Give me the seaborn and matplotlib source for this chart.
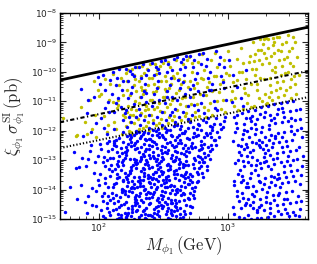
import matplotlib
matplotlib.use("Agg")
import matplotlib.pyplot as plt
import seaborn as sns
from matplotlib.ticker import LogLocator, NullFormatter

# (log10 M [GeV], log10 sigma [pb])
olive_pts = [
    (1.72,-11.57),(1.82,-12.18),(1.83,-12.15),(1.86,-11.18),(1.89,-11.7),(1.93,-10.95),(1.95,-11.95),(1.97,-11.45),(1.99,-10.6),(1.91,-12.1),(1.96,-10.3),(1.98,-12.2),
    (2.02,-10.74),(2.00,-10.81),(2.08,-10.95),(2.11,-11.01),(2.15,-10.97),(2.15,-11.12),(2.14,-11.23),(2.11,-10.07),(2.09,-10.41),(2.16,-10.44),(2.04,-11.5),(2.06,-12.05),(2.12,-11.7),(2.18,-12.1),(2.19,-11.45),(2.17,-10.2),(2.05,-10.25),(2.13,-11.95),(2.07,-11.8),(2.19,-10.8),
    (2.21,-10.05),(2.22,-10.6),(2.23,-11.15),(2.24,-11.7),(2.25,-12.05),(2.26,-9.9),(2.27,-10.45),(2.28,-11.0),(2.29,-11.55),(2.21,-11.85),(2.22,-11.35),(2.23,-9.95),(2.24,-10.8),(2.25,-11.25),(2.26,-12.1),(2.27,-11.75),(2.28,-10.25),(2.29,-10.65),(2.205,-11.55),(2.235,-12.0),(2.265,-11.45),(2.295,-12.0),
    (2.30,-9.85),(2.31,-10.3),(2.32,-10.85),(2.33,-11.4),(2.34,-11.9),(2.35,-10.05),(2.36,-10.6),(2.37,-11.15),(2.38,-11.7),(2.39,-12.0),(2.305,-11.6),(2.315,-11.05),(2.325,-10.5),(2.335,-9.8),(2.345,-10.75),(2.355,-11.3),(2.365,-11.85),(2.375,-9.9),(2.385,-10.45),(2.395,-10.95),(2.31,-11.95),(2.33,-10.15),(2.36,-11.5),(2.38,-11.25),
    (2.40,-9.75),(2.41,-10.2),(2.42,-10.7),(2.43,-11.25),(2.44,-11.8),(2.45,-9.95),(2.46,-10.5),(2.47,-11.05),(2.48,-11.6),(2.49,-11.9),(2.405,-11.45),(2.415,-10.95),(2.425,-10.4),(2.435,-9.72),(2.445,-10.65),(2.455,-11.2),(2.465,-11.75),(2.475,-9.8),(2.485,-10.3),(2.495,-10.85),
    (2.50,-9.7),(2.51,-10.15),(2.52,-10.65),(2.53,-11.2),(2.54,-11.75),(2.55,-9.85),(2.56,-10.4),(2.57,-10.95),(2.58,-11.5),(2.59,-11.8),(2.505,-11.35),(2.515,-10.85),(2.525,-10.3),(2.535,-9.65),(2.545,-10.55),(2.555,-11.1),(2.565,-11.65),(2.585,-10.2),
    (2.60,-9.6),(2.61,-10.05),(2.62,-10.6),(2.63,-11.1),(2.64,-11.65),(2.65,-9.75),(2.66,-10.3),(2.67,-10.85),(2.68,-11.4),(2.69,-11.65),(2.605,-11.3),(2.625,-10.25),(2.645,-10.9),(2.665,-11.5),(2.685,-9.6),(2.695,-10.5),
    (2.70,-9.5),(2.72,-10.0),(2.74,-10.55),(2.76,-11.1),(2.78,-11.5),(2.71,-10.3),(2.73,-10.85),(2.75,-11.35),(2.77,-9.65),(2.79,-10.2),(2.705,-11.6),(2.725,-9.7),(2.745,-11.55),(2.785,-10.75),
    (2.80,-9.4),(2.82,-9.95),(2.84,-10.5),(2.86,-11.05),(2.88,-11.45),(2.81,-10.25),(2.83,-10.8),(2.85,-11.3),(2.87,-9.6),(2.89,-10.15),(2.835,-11.55),(2.875,-10.65),
    (2.90,-9.35),(2.92,-9.85),(2.94,-10.4),(2.96,-10.95),(2.98,-11.35),(2.91,-10.15),(2.93,-10.7),(2.95,-11.25),(2.97,-9.6),(2.99,-10.05),
    (3.00,-9.3),(3.02,-9.8),(3.04,-10.35),(3.06,-10.9),(3.08,-11.3),(3.01,-10.1),(3.03,-10.65),(3.05,-11.15),(3.07,-9.55),(3.09,-10.0),
    (3.10,-9.2),(3.12,-9.7),(3.14,-10.25),(3.16,-10.8),(3.18,-11.2),(3.11,-10.0),(3.13,-10.55),(3.15,-11.05),(3.17,-9.45),(3.19,-9.9),(3.12,-11.25),(3.18,-10.4),
    (3.20,-9.0),(3.21,-9.4),(3.22,-9.9),(3.23,-10.4),(3.24,-10.9),(3.25,-8.9),(3.26,-9.25),(3.27,-9.75),(3.28,-10.25),(3.29,-10.75),(3.205,-11.15),(3.225,-10.6),(3.245,-9.6),(3.265,-11.0),(3.285,-8.88),(3.215,-10.1),(3.275,-9.05),(3.295,-11.1),
    (3.30,-8.85),(3.31,-9.2),(3.32,-9.7),(3.33,-10.2),(3.34,-10.7),(3.35,-8.85),(3.36,-9.35),(3.37,-9.85),(3.38,-10.35),(3.39,-10.85),(3.305,-11.05),(3.315,-8.9),(3.325,-10.45),(3.335,-9.45),(3.345,-10.95),(3.355,-9.1),(3.365,-10.0),(3.375,-10.6),(3.385,-8.8),(3.395,-9.6),
    (3.40,-8.8),(3.41,-9.3),(3.42,-9.8),(3.43,-10.3),(3.44,-10.8),(3.45,-9.0),(3.46,-9.5),(3.47,-10.0),(3.48,-10.5),(3.49,-10.9),(3.405,-10.55),(3.425,-9.05),(3.445,-10.05),(3.465,-8.75),(3.485,-9.7),(3.495,-10.25),
    (3.50,-9.2),(3.51,-9.8),(3.52,-10.4),(3.53,-10.75),(3.54,-9.5),(3.55,-10.1),(3.505,-8.8),(3.525,-9.0),
    (2.218,-10.32),(2.243,-11.47),(2.271,-10.12),(2.289,-11.28),(2.337,-10.63),(2.361,-11.08),(2.392,-10.22),(2.418,-11.62),(2.446,-10.07),(2.471,-11.33),
    (2.517,-10.58),(2.548,-11.52),(2.573,-10.13),(2.596,-10.71),(2.637,-10.43),(2.673,-11.17),(2.718,-11.08),(2.762,-10.38),(2.817,-11.18),(2.858,-10.33),
    (2.916,-11.0),(2.962,-10.27),(3.026,-10.95),(3.072,-10.28),(3.138,-10.72),(3.167,-9.68),(3.232,-9.27),(3.253,-10.22),(3.296,-9.52),(3.318,-10.85),
    (3.347,-9.93),(3.388,-9.27),(3.414,-10.12),(3.438,-9.55),(3.478,-9.28),(3.452,-10.62),(3.513,-10.15),(3.283,-9.37),(3.204,-9.62),(3.362,-8.98),
]

blue_low_pts = [
    (1.74,-14.76),(1.78,-13.9),
    (1.82,-13.27),(1.85,-13.25),(1.86,-13.84),(1.89,-14.42),(1.83,-14.31),(1.87,-12.92),(1.81,-12.71),
    (1.90,-13.2),(1.93,-12.68),(1.95,-13.94),(1.92,-14.22),(1.95,-14.52),(1.98,-14.55),(1.96,-13.45),(1.99,-12.87),(1.91,-14.81),(1.97,-13.08),(1.94,-12.5),(1.98,-14.05),(1.99,-13.66),(1.92,-12.95),
    (2.01,-12.45),(2.03,-13.05),(2.05,-13.62),(2.07,-14.21),(2.09,-14.85),(2.02,-14.68),(2.04,-12.88),(2.06,-12.41),(2.08,-13.31),(2.00,-13.85),(2.03,-14.4),(2.05,-14.95),(2.07,-12.7),(2.09,-13.55),(2.01,-13.48),(2.04,-14.1),(2.06,-14.62),(2.08,-12.36),(2.02,-12.62),(2.05,-13.2),(2.07,-13.92),(2.09,-14.35),(2.03,-14.9),(2.06,-13.0),(2.08,-14.75),
    (2.13,-12.31),(2.17,-12.58),(2.11,-12.93),(2.19,-13.17),(2.14,-13.46),(2.12,-13.82),(2.18,-14.07),(2.15,-14.38),(2.11,-14.71),(2.16,-14.96),(2.19,-13.66),(2.13,-14.19),(2.17,-14.53),(2.12,-12.42),(2.18,-12.77),(2.15,-13.03),(2.10,-13.36),(2.16,-12.24),(2.14,-13.61),(2.19,-12.98),
    (2.12,-14.44),(2.17,-13.33),(2.11,-13.91),(2.15,-14.82),(2.18,-14.02),(2.13,-12.52),(2.16,-12.86),(2.19,-13.72),(2.10,-12.63),(2.14,-12.71),(2.17,-14.98),(2.12,-12.35),(2.16,-14.6),(2.11,-14.28),(2.18,-13.97),(2.14,-15.0),(2.19,-14.01),(2.15,-13.21),(2.13,-13.77),(2.17,-14.88),
    (2.22,-12.18),(2.27,-12.49),(2.21,-12.83),(2.29,-13.12),(2.24,-13.37),(2.26,-13.71),(2.20,-14.04),(2.28,-14.33),(2.23,-14.62),(2.25,-14.91),(2.27,-13.56),(2.22,-13.88),(2.29,-14.17),(2.21,-14.43),(2.26,-14.77),(2.24,-12.29),(2.28,-12.61),(2.20,-12.92),(2.25,-13.23),(2.23,-13.52),
    (2.29,-14.36),(2.26,-14.66),(2.21,-14.97),(2.27,-12.13),(2.23,-12.44),(2.20,-12.74),(2.28,-13.06),(2.25,-13.34),(2.22,-13.64),(2.27,-13.96),(2.24,-12.97),(2.29,-13.27),(2.21,-13.58),(2.26,-13.92),(2.23,-14.22),(2.28,-14.51),(2.20,-14.81),(2.25,-12.37),(2.22,-12.67),(2.27,-12.96),
    (2.26,-14.07),(2.21,-12.56),(2.29,-13.01),(2.24,-13.43),(2.20,-14.16),(2.27,-15.0),(2.23,-13.74),(2.28,-14.26),(2.22,-14.86),(2.25,-12.22),(2.29,-12.08),(2.24,-12.15),(2.26,-14.56),(2.21,-14.94),(2.28,-14.42),
    (2.31,-12.03),(2.36,-12.27),(2.33,-12.55),(2.39,-12.84),(2.30,-13.09),(2.35,-13.31),(2.38,-13.62),(2.32,-13.87),(2.37,-14.14),(2.34,-14.41),(2.30,-14.68),(2.36,-14.95),(2.33,-12.19),(2.39,-12.48),(2.31,-12.72),(2.37,-12.99),(2.34,-13.26),(2.38,-13.51),(2.32,-13.78),(2.35,-14.03),
    (2.39,-14.29),(2.31,-14.57),(2.36,-14.83),(2.34,-12.11),(2.30,-12.36),(2.37,-12.63),(2.33,-12.91),(2.38,-13.18),(2.35,-13.45),(2.32,-13.69),(2.36,-13.97),(2.31,-14.22),(2.39,-14.49),(2.34,-14.74),(2.37,-14.99),(2.30,-12.58),(2.38,-12.07),(2.33,-13.38),(2.35,-12.45),(2.39,-13.73),
    (2.32,-14.12),(2.36,-13.14),(2.31,-13.57),(2.37,-14.61),(2.34,-12.78),(2.30,-13.93),(2.38,-14.88),(2.33,-14.36),(2.35,-12.86),(2.39,-13.28),(2.31,-14.93),(2.36,-12.68),(2.32,-13.02),(2.38,-14.07),(2.34,-13.66),(2.37,-12.31),(2.30,-14.47),(2.35,-14.68),(2.33,-12.97),(2.39,-12.29),
    (2.42,-11.98),(2.47,-12.22),(2.41,-12.51),(2.49,-12.77),(2.44,-13.04),(2.46,-13.29),(2.40,-13.56),(2.48,-13.83),(2.43,-14.09),(2.45,-14.37),(2.49,-14.63),(2.41,-14.91),(2.47,-12.09),(2.43,-12.38),(2.48,-12.64),(2.40,-12.93),(2.45,-13.18),(2.42,-13.47),(2.46,-13.71),(2.44,-13.99),
    (2.41,-14.24),(2.48,-14.52),(2.43,-14.79),(2.46,-11.93),(2.40,-12.27),(2.49,-12.53),(2.42,-12.86),(2.47,-13.11),(2.44,-13.39),(2.41,-13.64),(2.45,-13.91),(2.48,-14.17),(2.40,-14.44),(2.46,-14.72),(2.43,-14.98),(2.49,-12.15),(2.44,-12.46),(2.42,-12.71),(2.47,-13.55),(2.45,-12.97),
    (2.41,-13.25),(2.48,-13.03),(2.43,-13.82),(2.46,-14.28),(2.40,-14.86),(2.49,-14.05),(2.44,-14.6),(2.42,-14.14),(2.47,-14.41),(2.45,-12.59),(2.41,-12.16),(2.48,-13.36),(2.43,-12.92),(2.46,-12.81),(2.40,-13.78),(2.49,-13.48),(2.44,-12.02),(2.42,-13.6),(2.47,-14.9),(2.45,-14.82),
    (2.51,-11.9),(2.56,-12.13),(2.53,-12.42),(2.59,-12.68),(2.50,-12.95),(2.55,-13.21),(2.58,-13.48),(2.52,-13.74),(2.57,-14.01),(2.54,-14.27),(2.50,-14.55),(2.56,-14.81),(2.53,-11.98),(2.59,-12.31),(2.51,-12.57),(2.57,-12.84),(2.54,-13.12),(2.58,-13.37),(2.52,-13.63),(2.55,-13.88),
    (2.59,-14.15),(2.51,-14.42),(2.56,-14.69),(2.54,-14.96),(2.50,-12.22),(2.57,-12.49),(2.53,-12.76),(2.58,-13.02),(2.55,-13.29),(2.52,-13.56),(2.56,-13.83),(2.51,-14.08),(2.59,-14.35),(2.54,-14.61),(2.57,-14.88),(2.50,-13.42),(2.58,-11.85),(2.53,-13.16),(2.55,-12.37),(2.59,-13.62),
    (2.52,-12.05),(2.56,-12.93),(2.51,-13.93),(2.57,-14.46),(2.54,-12.66),(2.50,-14.21),(2.58,-14.73),(2.53,-14.5),(2.55,-14.11),(2.59,-12.99),(2.51,-12.71),(2.56,-14.34),(2.52,-14.82),(2.58,-13.87),(2.54,-13.54),(2.57,-12.19),(2.50,-13.68),(2.55,-14.99),(2.53,-13.91),(2.59,-14.57),
    (2.61,-11.8),(2.66,-12.07),(2.63,-12.33),(2.69,-12.6),(2.60,-12.88),(2.65,-13.14),(2.68,-13.41),(2.62,-13.67),(2.67,-13.93),(2.64,-14.2),(2.60,-14.47),(2.66,-14.73),(2.63,-14.98),(2.69,-11.92),(2.61,-12.22),(2.67,-12.49),(2.64,-12.75),(2.68,-13.02),(2.62,-13.28),(2.65,-13.55),
    (2.69,-13.81),(2.61,-14.08),(2.66,-14.35),(2.63,-14.62),(2.60,-14.89),(2.67,-12.0),(2.64,-12.41),(2.68,-12.68),(2.62,-12.95),(2.65,-13.22),(2.61,-13.48),(2.66,-13.75),(2.63,-14.02),(2.69,-14.27),(2.60,-14.58),(2.67,-14.83),(2.64,-11.84),(2.62,-12.15),(2.68,-12.86),(2.65,-12.58),
    (2.60,-13.35),(2.67,-13.6),(2.63,-13.08),(2.66,-14.14),(2.61,-14.7),(2.69,-13.18),(2.64,-13.88),(2.62,-14.4),(2.68,-14.52),(2.65,-14.92),(2.60,-12.53),(2.66,-12.79),(2.63,-11.95),(2.67,-13.47),(2.61,-12.71),
    (2.71,-11.72),(2.76,-11.95),(2.73,-12.21),(2.79,-12.47),(2.70,-12.74),(2.75,-13.0),(2.78,-13.27),(2.72,-13.53),(2.77,-13.7),(2.74,-14.05),(2.70,-14.32),(2.72,-14.58),(2.71,-14.81),(2.78,-11.81),(2.74,-12.08),(2.79,-12.34),(2.72,-12.6),(2.77,-12.87),(2.73,-13.13),(2.76,-13.39),
    (2.71,-13.66),(2.75,-13.92),(2.73,-14.18),(2.70,-13.82),(2.77,-12.15),(2.72,-12.41),(2.78,-12.67),(2.74,-12.94),(2.79,-13.2),(2.71,-13.46),(2.76,-13.76),(2.73,-11.86),(2.75,-12.55),(2.70,-12.28),(2.78,-13.05),(2.72,-13.95),(2.74,-14.28),(2.71,-14.55),(2.77,-11.76),(2.79,-11.98),
    (2.81,-11.63),(2.86,-11.84),(2.83,-12.09),(2.89,-12.32),(2.80,-12.58),(2.85,-12.83),(2.82,-13.08),(2.84,-13.33),(2.81,-13.58),(2.87,-12.21),(2.83,-11.72),(2.88,-11.97),(2.82,-12.44),(2.86,-12.69),(2.80,-12.95),(2.84,-13.2),(2.81,-13.05),(2.85,-11.58),(2.87,-12.5),(2.89,-11.78),
    (2.82,-12.77),(2.84,-12.15),(2.88,-12.62),(2.80,-13.45),(2.86,-12.95),
    (2.91,-11.56),(2.94,-11.78),(2.92,-12.05),(2.97,-11.66),(2.90,-12.3),(2.95,-11.95),(2.93,-12.2),(2.98,-11.52),(2.91,-12.48),(2.96,-11.87),
    (2.115,-12.47),(2.142,-13.12),(2.168,-14.26),(2.186,-12.39),(2.103,-14.13),(2.157,-13.58),(2.131,-14.67),(2.194,-14.49),(2.126,-13.29),(2.178,-13.05),
    (2.213,-12.71),(2.238,-14.04),(2.252,-12.53),(2.276,-13.81),(2.291,-14.72),(2.207,-13.43),(2.263,-13.18),(2.284,-12.41),(2.229,-14.79),(2.246,-13.96),
    (2.318,-12.24),(2.347,-13.53),(2.363,-14.27),(2.389,-12.63),(2.306,-13.71),(2.328,-14.85),(2.372,-13.08),(2.354,-12.04),(2.397,-14.12),(2.341,-13.87),
    (2.412,-12.36),(2.438,-13.42),(2.461,-14.55),(2.487,-12.88),(2.404,-13.92),(2.426,-14.67),(2.473,-13.24),(2.452,-12.13),(2.493,-14.32),(2.447,-13.63),
    (2.514,-12.28),(2.537,-13.35),(2.562,-14.44),(2.581,-12.57),(2.503,-13.79),(2.528,-14.73),(2.574,-13.04),(2.553,-11.96),(2.596,-14.01),(2.546,-13.69),
    (2.612,-12.42),(2.638,-13.51),(2.657,-14.11),(2.683,-12.24),(2.604,-13.97),(2.627,-14.82),(2.672,-13.17),(2.648,-12.07),(2.693,-13.58),(2.619,-13.12),
    (2.714,-12.52),(2.738,-13.28),(2.757,-12.18),(2.782,-12.91),(2.706,-14.12),(2.727,-13.74),(2.768,-13.46),(2.792,-12.61),
    (2.814,-12.23),(2.846,-12.56),(2.861,-12.08),(2.826,-12.88),(2.879,-11.88),
    (2.05,-13.78),(2.025,-14.22),(2.085,-12.94),(2.065,-14.47),(2.095,-13.16),
]

blue_high_pts = [
    (3.05,-11.52),(3.07,-11.9),(3.04,-12.35),(3.09,-12.72),(3.06,-13.1),(3.08,-13.48),(3.05,-13.86),(3.07,-14.22),(3.04,-14.6),(3.09,-14.93),(3.06,-12.05),(3.08,-12.98),(3.05,-13.7),(3.09,-14.38),(3.07,-11.45),
    (3.11,-11.4),(3.13,-11.77),(3.12,-12.12),(3.14,-12.46),(3.10,-12.83),(3.13,-13.19),(3.11,-13.55),(3.14,-13.9),(3.12,-14.28),(3.10,-14.64),(3.13,-14.97),(3.14,-11.58),(3.11,-12.29),(3.12,-13.02),(3.10,-13.74),(3.14,-14.45),(3.13,-12.62),(3.11,-14.1),
    (3.16,-11.32),(3.18,-11.68),(3.15,-12.0),(3.19,-12.38),(3.17,-12.74),(3.16,-13.07),(3.18,-13.43),(3.15,-13.79),(3.19,-14.14),(3.17,-14.52),(3.16,-14.86),(3.18,-11.9),(3.15,-12.55),(3.19,-12.9),(3.17,-13.62),(3.16,-14.33),(3.18,-15.0),(3.19,-11.5),
    (3.21,-11.28),(3.23,-11.61),(3.22,-11.95),(3.24,-12.3),(3.20,-12.64),(3.23,-12.99),(3.21,-13.35),(3.24,-13.7),(3.22,-14.06),(3.20,-14.41),(3.23,-14.77),(3.21,-11.78),(3.24,-12.47),(3.22,-13.18),(3.20,-13.88),(3.24,-14.59),(3.23,-14.95),(3.21,-12.12),
    (3.26,-11.2),(3.28,-11.54),(3.27,-11.87),(3.29,-12.21),(3.25,-12.56),(3.28,-12.91),(3.26,-13.26),(3.29,-13.62),(3.27,-13.97),(3.25,-14.33),(3.28,-14.69),(3.26,-14.98),(3.29,-11.36),(3.27,-12.4),(3.25,-13.09),(3.28,-13.8),(3.26,-14.51),(3.29,-12.75),
    (3.31,-11.15),(3.33,-11.47),(3.32,-11.8),(3.34,-12.15),(3.30,-12.5),(3.33,-12.84),(3.31,-13.2),(3.34,-13.55),(3.32,-13.9),(3.30,-14.26),(3.33,-14.62),(3.31,-14.94),(3.34,-11.63),(3.32,-12.32),(3.30,-13.02),(3.34,-13.73),(3.33,-14.44),(3.31,-12.67),
    (3.36,-11.1),(3.38,-11.42),(3.37,-11.75),(3.39,-12.09),(3.35,-12.43),(3.38,-12.77),(3.36,-13.12),(3.39,-13.47),(3.37,-13.83),(3.35,-14.18),(3.38,-14.54),(3.36,-14.89),(3.39,-11.26),(3.37,-12.26),(3.35,-12.95),(3.38,-13.65),(3.36,-14.36),(3.39,-14.72),
    (3.41,-11.05),(3.43,-11.38),(3.42,-11.7),(3.44,-12.04),(3.40,-12.38),(3.43,-12.72),(3.41,-13.07),(3.44,-13.42),(3.42,-13.78),(3.40,-14.13),(3.43,-14.49),(3.41,-14.84),(3.44,-11.55),(3.42,-12.55),(3.40,-13.6),(3.44,-14.31),
    (3.46,-11.02),(3.48,-11.33),(3.47,-11.66),(3.49,-12.0),(3.45,-12.34),(3.48,-12.68),(3.46,-13.03),(3.49,-13.38),(3.47,-13.74),(3.45,-14.09),(3.48,-14.45),(3.46,-14.8),(3.49,-11.83),(3.47,-12.87),(3.45,-13.56),
    (3.51,-10.98),(3.53,-11.3),(3.52,-11.62),(3.54,-11.97),(3.50,-12.3),(3.53,-12.65),(3.51,-13.0),(3.54,-13.35),(3.52,-13.7),(3.50,-14.06),(3.53,-14.42),(3.51,-14.77),
    (3.56,-11.25),(3.57,-11.9),(3.55,-12.55),(3.58,-13.2),(3.56,-13.8),(3.57,-14.4),(3.55,-14.9),(3.58,-12.2),
    (3.062,-11.73),(3.083,-12.47),(3.097,-13.33),(3.074,-14.05),(3.048,-14.82),(3.128,-11.96),(3.147,-12.87),(3.116,-13.68),(3.138,-14.53),(3.105,-12.52),
    (3.168,-12.22),(3.182,-13.18),(3.155,-13.91),(3.196,-14.62),(3.173,-11.56),(3.218,-12.43),(3.236,-13.52),(3.207,-14.23),(3.248,-11.43),(3.229,-14.69),
    (3.262,-12.06),(3.281,-13.07),(3.254,-13.74),(3.297,-14.41),(3.273,-12.63),(3.318,-11.93),(3.337,-13.31),(3.306,-14.08),(3.346,-12.57),(3.325,-14.81),
    (3.362,-11.58),(3.384,-12.93),(3.357,-13.58),(3.393,-14.17),(3.371,-12.19),(3.418,-12.21),(3.436,-13.21),(3.407,-13.93),(3.447,-14.66),(3.425,-11.22),
    (3.462,-12.51),(3.483,-13.16),(3.457,-14.32),(3.494,-11.57),(3.474,-14.91),(3.517,-12.12),(3.536,-12.95),(3.508,-13.53),(3.547,-14.21),(3.526,-14.88),
    (3.565,-11.61),(3.583,-12.86),(3.572,-13.51),(3.561,-14.65),
]

blue_up_pts = [
    (1.86,-10.59),(1.99,-10.18),(1.91,-11.4),(1.96,-10.85),(1.88,-12.18),(1.94,-12.05),(1.98,-11.75),(1.92,-10.95),
    (2.01,-10.4),(2.03,-10.12),(2.05,-10.62),(2.07,-11.02),(2.09,-10.28),(2.02,-11.58),(2.04,-11.9),(2.06,-12.1),(2.08,-11.35),(2.10,-10.75),
    (2.11,-10.02),(2.13,-10.45),(2.15,-10.88),(2.17,-11.2),(2.19,-11.62),(2.12,-11.95),(2.14,-10.2),(2.16,-9.92),(2.18,-10.6),(2.20,-11.4),(2.13,-11.05),(2.19,-12.05),
    (2.21,-9.9),(2.23,-10.3),(2.25,-10.72),(2.27,-11.1),(2.29,-11.55),(2.22,-11.88),(2.24,-9.98),(2.26,-10.5),(2.28,-9.85),(2.21,-11.3),(2.23,-10.9),(2.25,-11.7),(2.27,-10.15),(2.29,-12.0),
    (2.31,-9.82),(2.33,-10.22),(2.35,-10.65),(2.37,-11.02),(2.39,-11.45),(2.32,-11.82),(2.34,-9.75),(2.36,-10.42),(2.38,-9.95),(2.31,-11.25),(2.33,-10.85),(2.35,-11.62),(2.37,-10.1),(2.39,-11.9),
    (2.41,-9.7),(2.43,-10.1),(2.45,-10.55),(2.47,-10.95),(2.49,-11.35),(2.42,-11.75),(2.44,-9.85),(2.46,-10.32),(2.48,-9.62),(2.41,-11.15),(2.43,-10.75),(2.45,-11.55),(2.47,-10.05),(2.49,-11.8),
    (2.51,-9.6),(2.53,-10.0),(2.55,-10.45),(2.57,-10.85),(2.59,-11.25),(2.52,-11.65),(2.54,-9.75),(2.56,-10.22),(2.58,-9.55),(2.51,-11.05),(2.53,-10.65),(2.55,-11.45),(2.57,-9.95),(2.59,-11.7),
    (2.61,-9.5),(2.63,-9.9),(2.65,-10.35),(2.67,-10.75),(2.69,-11.15),(2.62,-11.55),(2.64,-9.65),(2.66,-10.12),(2.68,-9.45),(2.61,-10.95),(2.63,-10.55),(2.65,-11.35),(2.67,-9.85),(2.69,-11.6),
    (2.71,-9.45),(2.73,-9.85),(2.75,-10.25),(2.77,-10.65),(2.79,-11.05),(2.72,-11.45),(2.74,-9.6),(2.76,-10.05),(2.78,-9.4),(2.71,-10.85),(2.73,-10.45),(2.77,-11.3),
    (2.81,-9.35),(2.83,-9.8),(2.85,-10.2),(2.87,-10.6),(2.89,-11.0),(2.82,-11.4),(2.84,-9.55),(2.86,-10.0),(2.88,-10.4),(2.81,-10.8),
    (2.91,-9.3),(2.93,-9.75),(2.95,-10.15),(2.97,-10.55),(2.99,-10.95),(2.92,-11.3),(2.94,-9.5),(2.96,-10.35),
    (3.01,-9.6),(3.04,-10.1),(3.07,-10.5),(3.10,-10.9),(3.12,-11.15),(3.14,-9.94),
    (2.047,-11.22),(2.118,-11.38),(2.186,-10.31),(2.232,-11.52),(2.257,-10.06),(2.318,-11.48),(2.367,-10.73),(2.426,-11.02),(2.463,-9.92),(2.527,-10.86),
    (2.568,-11.36),(2.617,-10.28),(2.653,-9.58),(2.706,-10.58),(2.741,-11.12),(2.796,-9.72),(2.853,-10.63),(2.905,-11.24),(2.968,-9.83),(3.033,-11.02),
]

# limit lines (end points, straight in log-log)
line_mass = [50.0, 4200.0]
solid_sigma = [5.25e-11, 3.3e-9]
dashdot_sigma = [1.95e-12, 1.07e-10]
dotted_sigma = [2.57e-13, 1.38e-11]

blue_pts = blue_low_pts + blue_high_pts + blue_up_pts
olive_mass = [10 ** a for a, b in olive_pts]
olive_sigma = [10 ** b for a, b in olive_pts]
blue_mass = [10 ** a for a, b in blue_pts]
blue_sigma = [10 ** b for a, b in blue_pts]

sns.set_style("ticks")
plt.rcParams.update({
    "font.family": ["DejaVu Sans"],
    "mathtext.fontset": "cm",
    "xtick.direction": "in",
    "ytick.direction": "in",
    "xtick.top": True,
    "ytick.right": True,
    "axes.edgecolor": "black",
    "axes.linewidth": 1.0,
})

fig = plt.figure(figsize=(3.17, 2.64), dpi=100)
ax = fig.add_axes([0.1893, 0.1705, 0.7823, 0.7803])
ax.set_xscale("log")
ax.set_yscale("log")

sns.scatterplot(x=olive_mass, y=olive_sigma, color=(0.75, 0.75, 0.0), s=6,
                linewidth=0, marker="o", ax=ax, zorder=2)
sns.scatterplot(x=blue_mass, y=blue_sigma, color=(0.0, 0.0, 1.0), s=6,
                linewidth=0, marker="o", ax=ax, zorder=2)

sns.lineplot(x=line_mass, y=solid_sigma, color="black", lw=2.0, ax=ax, zorder=3)
sns.lineplot(x=line_mass, y=dashdot_sigma, color="black", lw=1.5, ax=ax, zorder=3,
             linestyle=(0, (2.0, 1.2, 0.6, 1.2)))
sns.lineplot(x=line_mass, y=dotted_sigma, color="black", lw=1.5, ax=ax, zorder=3,
             linestyle=(0, (0.6, 1.0)))

ax.set_xlim(50, 4200)
ax.set_ylim(1e-15, 1e-8)
ax.yaxis.set_major_locator(LogLocator(base=10, numticks=20))
ax.yaxis.set_minor_locator(LogLocator(base=10, subs=range(2, 10), numticks=100))
ax.yaxis.set_minor_formatter(NullFormatter())
ax.xaxis.set_minor_locator(LogLocator(base=10, subs=range(2, 10), numticks=100))
ax.xaxis.set_minor_formatter(NullFormatter())
ax.tick_params(which="major", length=4, width=0.8, labelsize=6.5, pad=2)
ax.tick_params(which="minor", length=2, width=0.6)

ax.set_xlabel(r"$M_{\phi_1}\,(\mathrm{GeV})$", fontsize=12, labelpad=0)
ax.set_ylabel(r"$\xi_{\phi_1}\,\sigma_{\phi_1}^{\rm SI}\,(\mathrm{pb})$", fontsize=12, labelpad=3)

fig.savefig("out.png", dpi=100)
